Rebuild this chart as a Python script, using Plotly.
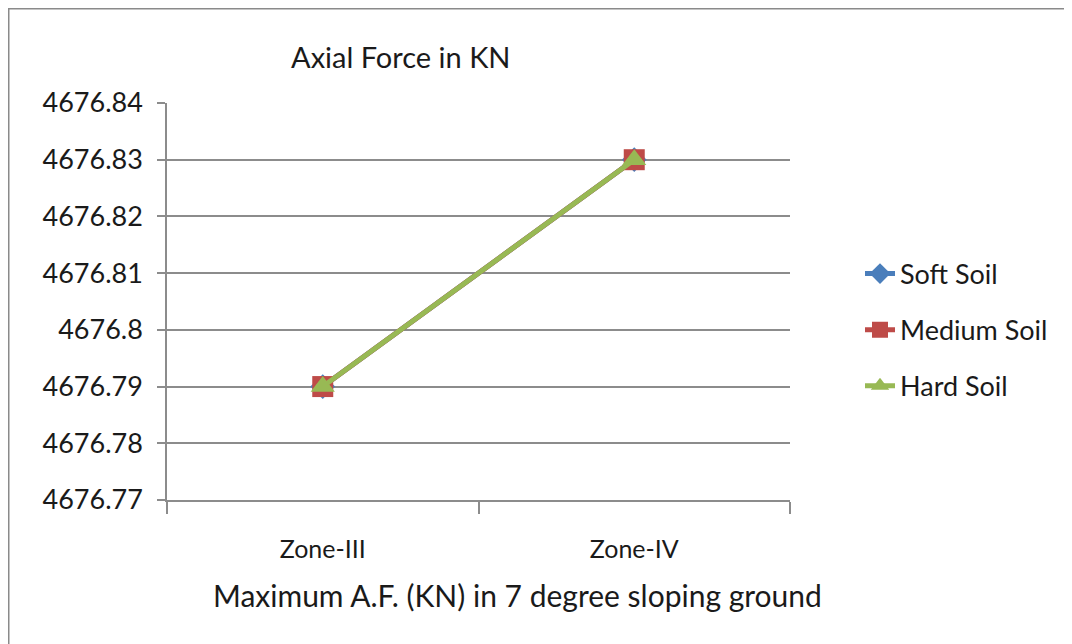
import plotly.graph_objects as go

categories = ["Zone-III", "Zone-IV"]
soft_soil = [4676.79, 4676.83]
medium_soil = [4676.79, 4676.83]
hard_soil = [4676.79, 4676.83]
y_tickvals = [4676.77, 4676.78, 4676.79, 4676.80, 4676.81, 4676.82, 4676.83, 4676.84]
y_ticktext = ["4676.77", "4676.78", "4676.79", "4676.8", "4676.81", "4676.82", "4676.83", "4676.84"]

FONT = "Lato"
GRID = "#8c8c8c"
OFF = 8  # page body margin
W, H = 1072, 644
L, R, T, B = 167 - OFF, 790 - OFF, 103 - OFF, 500 - OFF

def px_x(x):
    return (x - OFF - L) / (R - L)

def px_y(y):
    return (B - (y - OFF)) / (B - T)

fig = go.Figure()
series = [
    ("Soft Soil", soft_soil, "#4A7EBB", "diamond", 19),
    ("Medium Soil", medium_soil, "#BE4B48", "square", 21),
    ("Hard Soil", hard_soil, "#98B954", "triangle-up", 21),
]
for name, vals, col, sym, sz in series:
    fig.add_trace(go.Scatter(
        x=categories, y=vals, name=name, mode="lines+markers",
        legendgroup=name,
        line=dict(color=col, width=5),
        marker=dict(symbol=sym, size=sz, color=col),
    ))

fig.update_layout(
    width=W, height=H,
    margin=dict(l=L, r=W - R, t=T, b=H - B, pad=0),
    paper_bgcolor="white", plot_bgcolor="white",
    font=dict(family=FONT, size=26, color="#1a1a1a"),
    showlegend=True,
    legend=dict(x=px_x(860), y=px_y(330), xanchor="left", yanchor="middle",
                font=dict(size=27), tracegroupgap=18, traceorder="grouped",
                bgcolor="rgba(0,0,0,0)"),
    xaxis=dict(type="category", range=[-0.5, 1.5], showgrid=False,
               showline=True, linecolor=GRID, linewidth=1.5,
               ticks="outside", tickson="boundaries", ticklen=12, tickcolor=GRID, tickwidth=1.5,
               tickfont=dict(size=25), ticklabelstandoff=26, fixedrange=True),
    yaxis=dict(range=[4676.77, 4676.84], tickvals=y_tickvals, ticktext=y_ticktext,
               showgrid=True, gridcolor=GRID, gridwidth=1.5, zeroline=False,
               showline=True, linecolor=GRID, linewidth=1.5,
               ticks="outside", ticklen=8, tickcolor=GRID, tickwidth=1.5,
               tickfont=dict(size=27), ticklabelstandoff=9, fixedrange=True),
    annotations=[
        dict(text="Axial Force in KN", x=px_x(401), y=px_y(56), xref="paper", yref="paper",
             showarrow=False, xanchor="center", yanchor="middle", font=dict(size=29)),
        dict(text="Maximum A.F. (KN) in 7 degree sloping ground", x=px_x(517), y=px_y(595),
             xref="paper", yref="paper", showarrow=False, xanchor="center", yanchor="middle",
             font=dict(size=30)),
    ],
    shapes=[
        dict(type="line", xref="paper", yref="paper", x0=px_x(8), x1=px_x(8),
             y0=px_y(670), y1=px_y(8), line=dict(color="#8a8a8a", width=3)),
        dict(type="line", xref="paper", yref="paper", x0=px_x(8), x1=px_x(1090),
             y0=px_y(8), y1=px_y(8), line=dict(color="#8a8a8a", width=3)),
    ],
)

fig.write_html("out.html")
